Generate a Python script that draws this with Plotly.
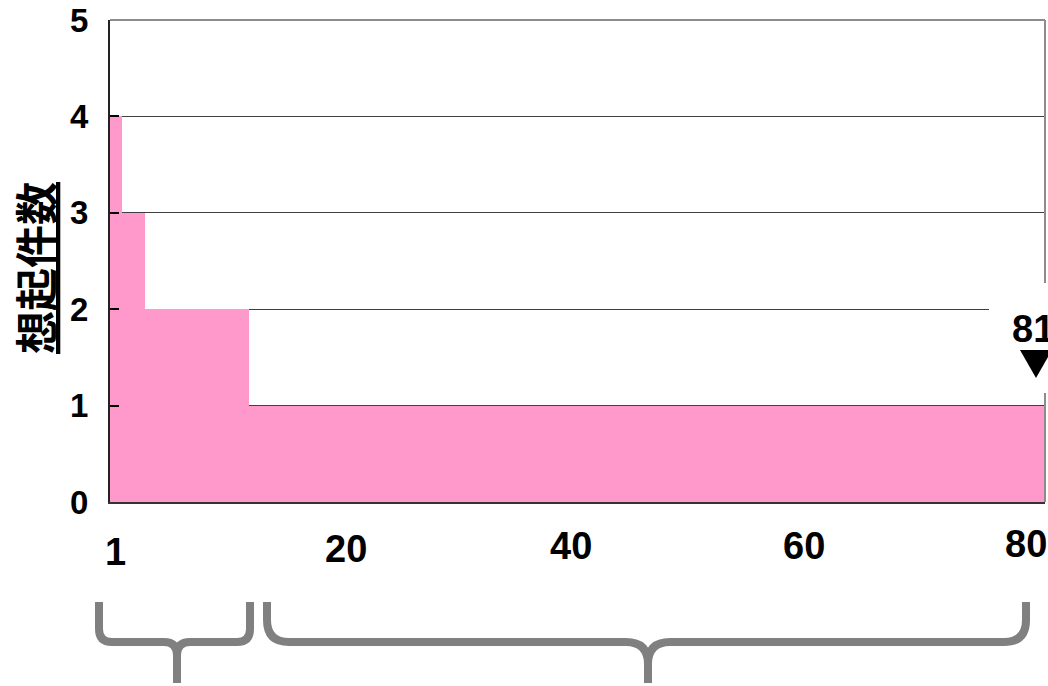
import plotly.graph_objects as go

# Recall counts per item, items ranked 1..81
items = list(range(1, 82))
recall_counts = [
    4, 3, 3, 2, 2, 2, 2, 2, 2, 2, 2, 2,
    1, 1, 1, 1, 1, 1, 1, 1, 1, 1, 1, 1, 1, 1, 1, 1, 1, 1,
    1, 1, 1, 1, 1, 1, 1, 1, 1, 1, 1, 1, 1, 1, 1, 1, 1, 1,
    1, 1, 1, 1, 1, 1, 1, 1, 1, 1, 1, 1, 1, 1, 1, 1, 1, 1,
    1, 1, 1, 1, 1, 1, 1, 1, 1, 1, 1, 1, 1, 1, 1,
]
x_tick_values = [1, 20, 40, 60, 80]
y_tick_values = [0, 1, 2, 3, 4, 5]
last_item_label = "81"
y_title = "想起件数"

# ---- layout geometry (pixels) ----
W, H = 1048, 686
L, R, T, B = 110, 3, 20, 184
PW, PH = W - L - R, H - T - B


def px(x):
    return (x - L) / PW


def py(y):
    return (H - B - y) / PH


PINK = "#FF99CC"
GREY = "#808080"
SANS = "Liberation Sans, Arial, sans-serif"

fig = go.Figure(
    go.Bar(
        x=items,
        y=recall_counts,
        width=1.0,
        marker=dict(color=PINK, line=dict(width=0)),
        hoverinfo="x+y",
    )
)

fig.update_layout(
    width=W,
    height=H,
    margin=dict(l=L, r=R, t=T, b=B, pad=0),
    paper_bgcolor="white",
    plot_bgcolor="white",
    bargap=0,
    showlegend=False,
    font=dict(family=SANS, color="black"),
)

fig.update_xaxes(
    range=[0.5, 81.5],
    showgrid=False,
    zeroline=False,
    showticklabels=False,
    ticks="",
    showline=True,
    linecolor="#333333",
    linewidth=2,
)

fig.update_yaxes(
    range=[0, 5],
    tickvals=y_tick_values,
    showgrid=True,
    gridcolor="#404040",
    gridwidth=1,
    zeroline=False,
    ticks="inside",
    ticklen=9,
    tickwidth=1.5,
    tickcolor="black",
    showline=True,
    linecolor="#222222",
    linewidth=2,
    ticklabelstandoff=13,
    tickfont=dict(size=33, weight="bold", family=SANS),
)

shapes = []
# top and right frame in grey
shapes.append(dict(type="line", xref="paper", yref="paper", x0=0, x1=1, y0=1, y1=1,
                   line=dict(color="#8c8c8c", width=2), layer="above"))
shapes.append(dict(type="line", xref="paper", yref="paper", x0=1, x1=1, y0=0, y1=1,
                   line=dict(color="#8c8c8c", width=2), layer="above"))
# white box behind the end marker
shapes.append(dict(type="rect", xref="paper", yref="paper",
                   x0=px(989), x1=px(1070), y0=py(393), y1=py(283),
                   fillcolor="white", line=dict(width=0), layer="above"))
# downward pointer under the end label
shapes.append(dict(type="path", xref="paper", yref="paper",
                   path=(f"M {px(1020)},{py(350)} L {px(1052)},{py(350)} "
                         f"L {px(1036)},{py(378)} Z"),
                   fillcolor="black", line=dict(width=0), layer="above"))


def brace(xl, xm, xr, ytop, ybar, ytip, r):
    pts = [
        f"M {px(xl)},{py(ytop)}",
        f"L {px(xl)},{py(ybar - r)}",
        f"Q {px(xl)},{py(ybar)} {px(xl + r)},{py(ybar)}",
        f"L {px(xm - r)},{py(ybar)}",
        f"Q {px(xm)},{py(ybar)} {px(xm)},{py(ybar + r)}",
        f"L {px(xm)},{py(ytip)}",
        f"M {px(xm)},{py(ybar + r)}",
        f"Q {px(xm)},{py(ybar)} {px(xm + r)},{py(ybar)}",
        f"L {px(xr - r)},{py(ybar)}",
        f"Q {px(xr)},{py(ybar)} {px(xr)},{py(ybar - r)}",
        f"L {px(xr)},{py(ytop)}",
    ]
    return dict(type="path", xref="paper", yref="paper", path=" ".join(pts),
                line=dict(color=GREY, width=8), layer="above")


shapes.append(brace(99, 177, 250, 602, 642, 683, 13))
shapes.append(brace(267, 648, 1026, 602, 642, 683, 22))
fig.update_layout(shapes=shapes)

annotations = []
# x tick labels, slightly staggered
label_shift = {1: (0, 552), 20: (11, 549), 40: (5, 546), 60: (7, 546), 80: (-2, 544)}
for v in x_tick_values:
    dx, yc = label_shift[v]
    annotations.append(dict(
        x=v, xref="x", y=py(yc), yref="paper", xshift=dx,
        text=str(v), showarrow=False, xanchor="center", yanchor="middle",
        font=dict(size=38, weight="bold", family=SANS),
    ))

# end-of-range label
annotations.append(dict(
    x=px(1010), xref="paper", y=py(329), yref="paper",
    text=last_item_label, showarrow=False, xanchor="left", yanchor="middle",
    font=dict(size=38, weight="bold", family=SANS),
))

# y-axis title
annotations.append(dict(
    x=px(34), xref="paper", y=py(268), yref="paper",
    text=f"<u>{y_title}</u>", showarrow=False, textangle=-90,
    xanchor="center", yanchor="middle",
    font=dict(size=43, weight="bold", family="Noto Sans CJK JP, sans-serif"),
))
fig.update_layout(annotations=annotations)

fig.write_html("out.html")
